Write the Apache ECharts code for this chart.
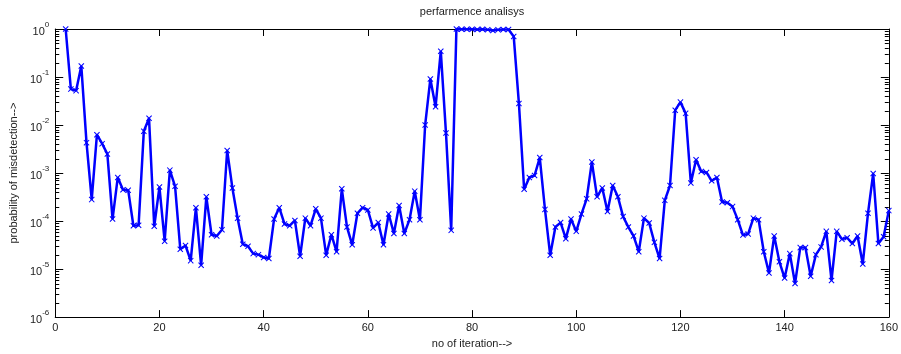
<!DOCTYPE html>
<html>
<head>
<meta charset="utf-8">
<script src="https://cdn.jsdelivr.net/npm/echarts@6/dist/echarts.min.js"></script>
<style>
  html, body { margin: 0; padding: 0; background: #fff; }
  #chart { width: 901px; height: 354px; }
</style>
</head>
<body>
<div id="chart"></div>
<script>
// Probability of misdetection recorded at each iteration (iterations 2 .. 160)
const firstIteration = 2;
const misdetection = [
  1, 0.056, 0.052, 0.17, 0.0043, 0.00028, 0.0063, 0.0041, 0.0025,          // 2-10
  1.1e-4, 8.1e-4, 4.5e-4, 4.4e-4, 8e-5, 8.2e-5, 0.0074, 0.0138, 7.8e-5, 5.1e-4,   // 11-20
  3.8e-5, 1.15e-3, 5.3e-4, 2.6e-5, 3.1e-5, 1.5e-5, 1.9e-4, 1.2e-5, 3.2e-4, 5.2e-5, // 21-30
  4.9e-5, 6.6e-5, 2.95e-3, 4.9e-4, 1.15e-4, 3.3e-5, 3.0e-5, 2.1e-5, 2.0e-5, 1.75e-5, // 31-40
  1.66e-5, 1.1e-4, 1.9e-4, 8.7e-5, 8e-5, 1.03e-4, 1.85e-5, 1.15e-4, 8e-5, 1.8e-4,  // 41-50
  1.15e-4, 1.95e-5, 5.2e-5, 2.3e-5, 4.7e-4, 7.5e-5, 3.2e-5, 1.45e-4, 1.9e-4, 1.7e-4, // 51-60
  7.2e-5, 9.3e-5, 3.2e-5, 1.4e-4, 5.5e-5, 2.1e-4, 5.5e-5, 1.07e-4, 4.2e-4, 1.07e-4, // 61-70
  0.01, 0.091, 0.024, 0.345, 0.0068, 6.4e-5, 1, 0.99, 0.99, 0.99,                   // 71-80
  0.98, 0.99, 0.97, 0.93, 0.96, 0.98, 0.98, 0.7, 0.028, 4.6e-4,                     // 81-90
  8.1e-4, 8.9e-4, 2.1e-3, 1.75e-4, 1.95e-5, 7.5e-5, 9.3e-5, 4.3e-5, 1.1e-4, 6.1e-5,  // 91-100
  1.4e-4, 2.9e-4, 1.7e-3, 3.2e-4, 4.9e-4, 1.58e-4, 5.5e-4, 3.2e-4, 1.24e-4, 7.5e-5, // 101-110
  4.9e-5, 2.3e-5, 1.15e-4, 9.1e-5, 3.6e-5, 1.66e-5, 2.7e-4, 5.5e-4, 0.0204, 0.030,  // 111-120
  0.0175, 6.2e-4, 1.9e-3, 1.08e-3, 1.03e-3, 6.9e-4, 8.1e-4, 2.5e-4, 2.4e-4, 2.0e-4, // 121-130
  1.07e-4, 5.1e-5, 5.4e-5, 1.15e-4, 1.07e-4, 2.3e-5, 8.3e-6, 4.9e-5, 1.42e-5, 6.5e-6, // 131-140
  2.1e-5, 5.0e-6, 2.8e-5, 2.8e-5, 7.1e-6, 2.0e-5, 2.9e-5, 6.1e-5, 5.8e-6, 6.1e-5,   // 141-150
  4.2e-5, 4.5e-5, 3.4e-5, 4.9e-5, 1.28e-5, 1.45e-4, 9.8e-4, 3.4e-5, 4.7e-5, 1.65e-4  // 151-160
];

// Axis ranges and tick values
const xTicks = [0, 20, 40, 60, 80, 100, 120, 140, 160];
const yDecades = [-6, -5, -4, -3, -2, -1, 0];
const minorMultipliers = [2, 3, 4, 5, 6, 7, 8, 9];

const titleText = 'perfarmence analisys';
const xLabel = 'no of iteration-->';
const yLabel = 'probability of misdetection-->';

const points = misdetection.map((v, k) => [firstIteration + k, v]);

// log-axis minor tick values (2..9 times each decade)
const minorTickValues = [];
for (let d = 0; d < yDecades.length - 1; d++) {
  for (const m of minorMultipliers) minorTickValues.push([xTicks[0], m * Math.pow(10, yDecades[d])]);
}

const FONT = 'Liberation Sans, Arial, Helvetica, sans-serif';
const INK = '#222';

// cross marker as a filled outline
const crossPath = 'path://M0,1.2L1.2,0L5,3.8L8.8,0L10,1.2L6.2,5L10,8.8L8.8,10L5,6.2L1.2,10L0,8.8L3.8,5Z';

const chart = echarts.init(document.getElementById('chart'), null, { renderer: 'canvas' });

const xCommon = {
  type: 'value',
  min: xTicks[0],
  max: xTicks[xTicks.length - 1],
  interval: xTicks[1] - xTicks[0],
  splitLine: { show: false },
  axisLine: { show: true, onZero: false, lineStyle: { color: '#000', width: 1 } },
  axisTick: { show: true, inside: true, length: 7, lineStyle: { color: '#000', width: 1 } }
};
const yCommon = {
  type: 'log',
  logBase: 10,
  min: Math.pow(10, yDecades[0]),
  max: Math.pow(10, yDecades[yDecades.length - 1]),
  splitLine: { show: false },
  minorTick: { show: false },
  axisLine: { show: true, onZero: false, lineStyle: { color: '#000', width: 1 } },
  axisTick: { show: true, inside: true, length: 8, lineStyle: { color: '#000', width: 1 } }
};

chart.setOption({
  animation: false,
  backgroundColor: '#fff',
  textStyle: { fontFamily: FONT },
  grid: { left: 54, right: 10, top: 29, bottom: 32, containLabel: false },
  xAxis: [
    Object.assign({}, xCommon, {
      position: 'bottom',
      name: xLabel,
      nameLocation: 'middle',
      nameGap: 20,
      nameTextStyle: { color: INK, fontSize: 11, fontFamily: FONT },
      axisLabel: { show: true, margin: 5, color: INK, fontSize: 11, fontFamily: FONT }
    }),
    Object.assign({}, xCommon, {
      position: 'top',
      name: titleText,
      nameLocation: 'middle',
      nameGap: 12,
      nameTextStyle: { color: INK, fontSize: 11, fontFamily: FONT },
      axisLabel: { show: false }
    })
  ],
  yAxis: [
    Object.assign({}, yCommon, {
      position: 'left',
      name: yLabel,
      nameLocation: 'middle',
      nameGap: 32,
      nameTextStyle: { color: INK, fontSize: 11, fontFamily: FONT },
      axisLabel: {
        show: true,
        margin: 6,
        formatter: function (v) {
          const e = Math.round(Math.log10(v));
          return '{b|10}{e|' + e + '}';
        },
        rich: {
          b: { fontSize: 11, color: INK, fontFamily: FONT, verticalAlign: 'bottom', lineHeight: 16 },
          e: { fontSize: 8, color: INK, fontFamily: FONT, verticalAlign: 'top', lineHeight: 16 }
        }
      }
    }),
    Object.assign({}, yCommon, {
      position: 'right',
      axisLabel: { show: false }
    })
  ],
  series: [
    {
      // minor ticks of the logarithmic y axis, drawn inside on both frame sides
      type: 'custom',
      xAxisIndex: 0,
      yAxisIndex: 0,
      silent: true,
      clip: false,
      z: 1,
      data: minorTickValues,
      renderItem: function (params, api) {
        const p = api.coord([api.value(0), api.value(1)]);
        const cs = params.coordSys;
        const len = 4;
        const y = Math.round(p[1]) + 0.5;
        const style = { stroke: '#000', lineWidth: 1 };
        return {
          type: 'group',
          children: [
            { type: 'line', shape: { x1: cs.x, y1: y, x2: cs.x + len, y2: y }, style: style },
            { type: 'line', shape: { x1: cs.x + cs.width - len, y1: y, x2: cs.x + cs.width, y2: y }, style: style }
          ]
        };
      }
    },
    {
      type: 'line',
      xAxisIndex: 0,
      yAxisIndex: 0,
      data: points,
      clip: false,
      z: 3,
      symbol: crossPath,
      symbolSize: 6,
      showAllSymbol: true,
      lineStyle: { color: '#0000ff', width: 2.5 },
      itemStyle: { color: '#0000ff' }
    }
  ]
});
</script>
</body>
</html>
